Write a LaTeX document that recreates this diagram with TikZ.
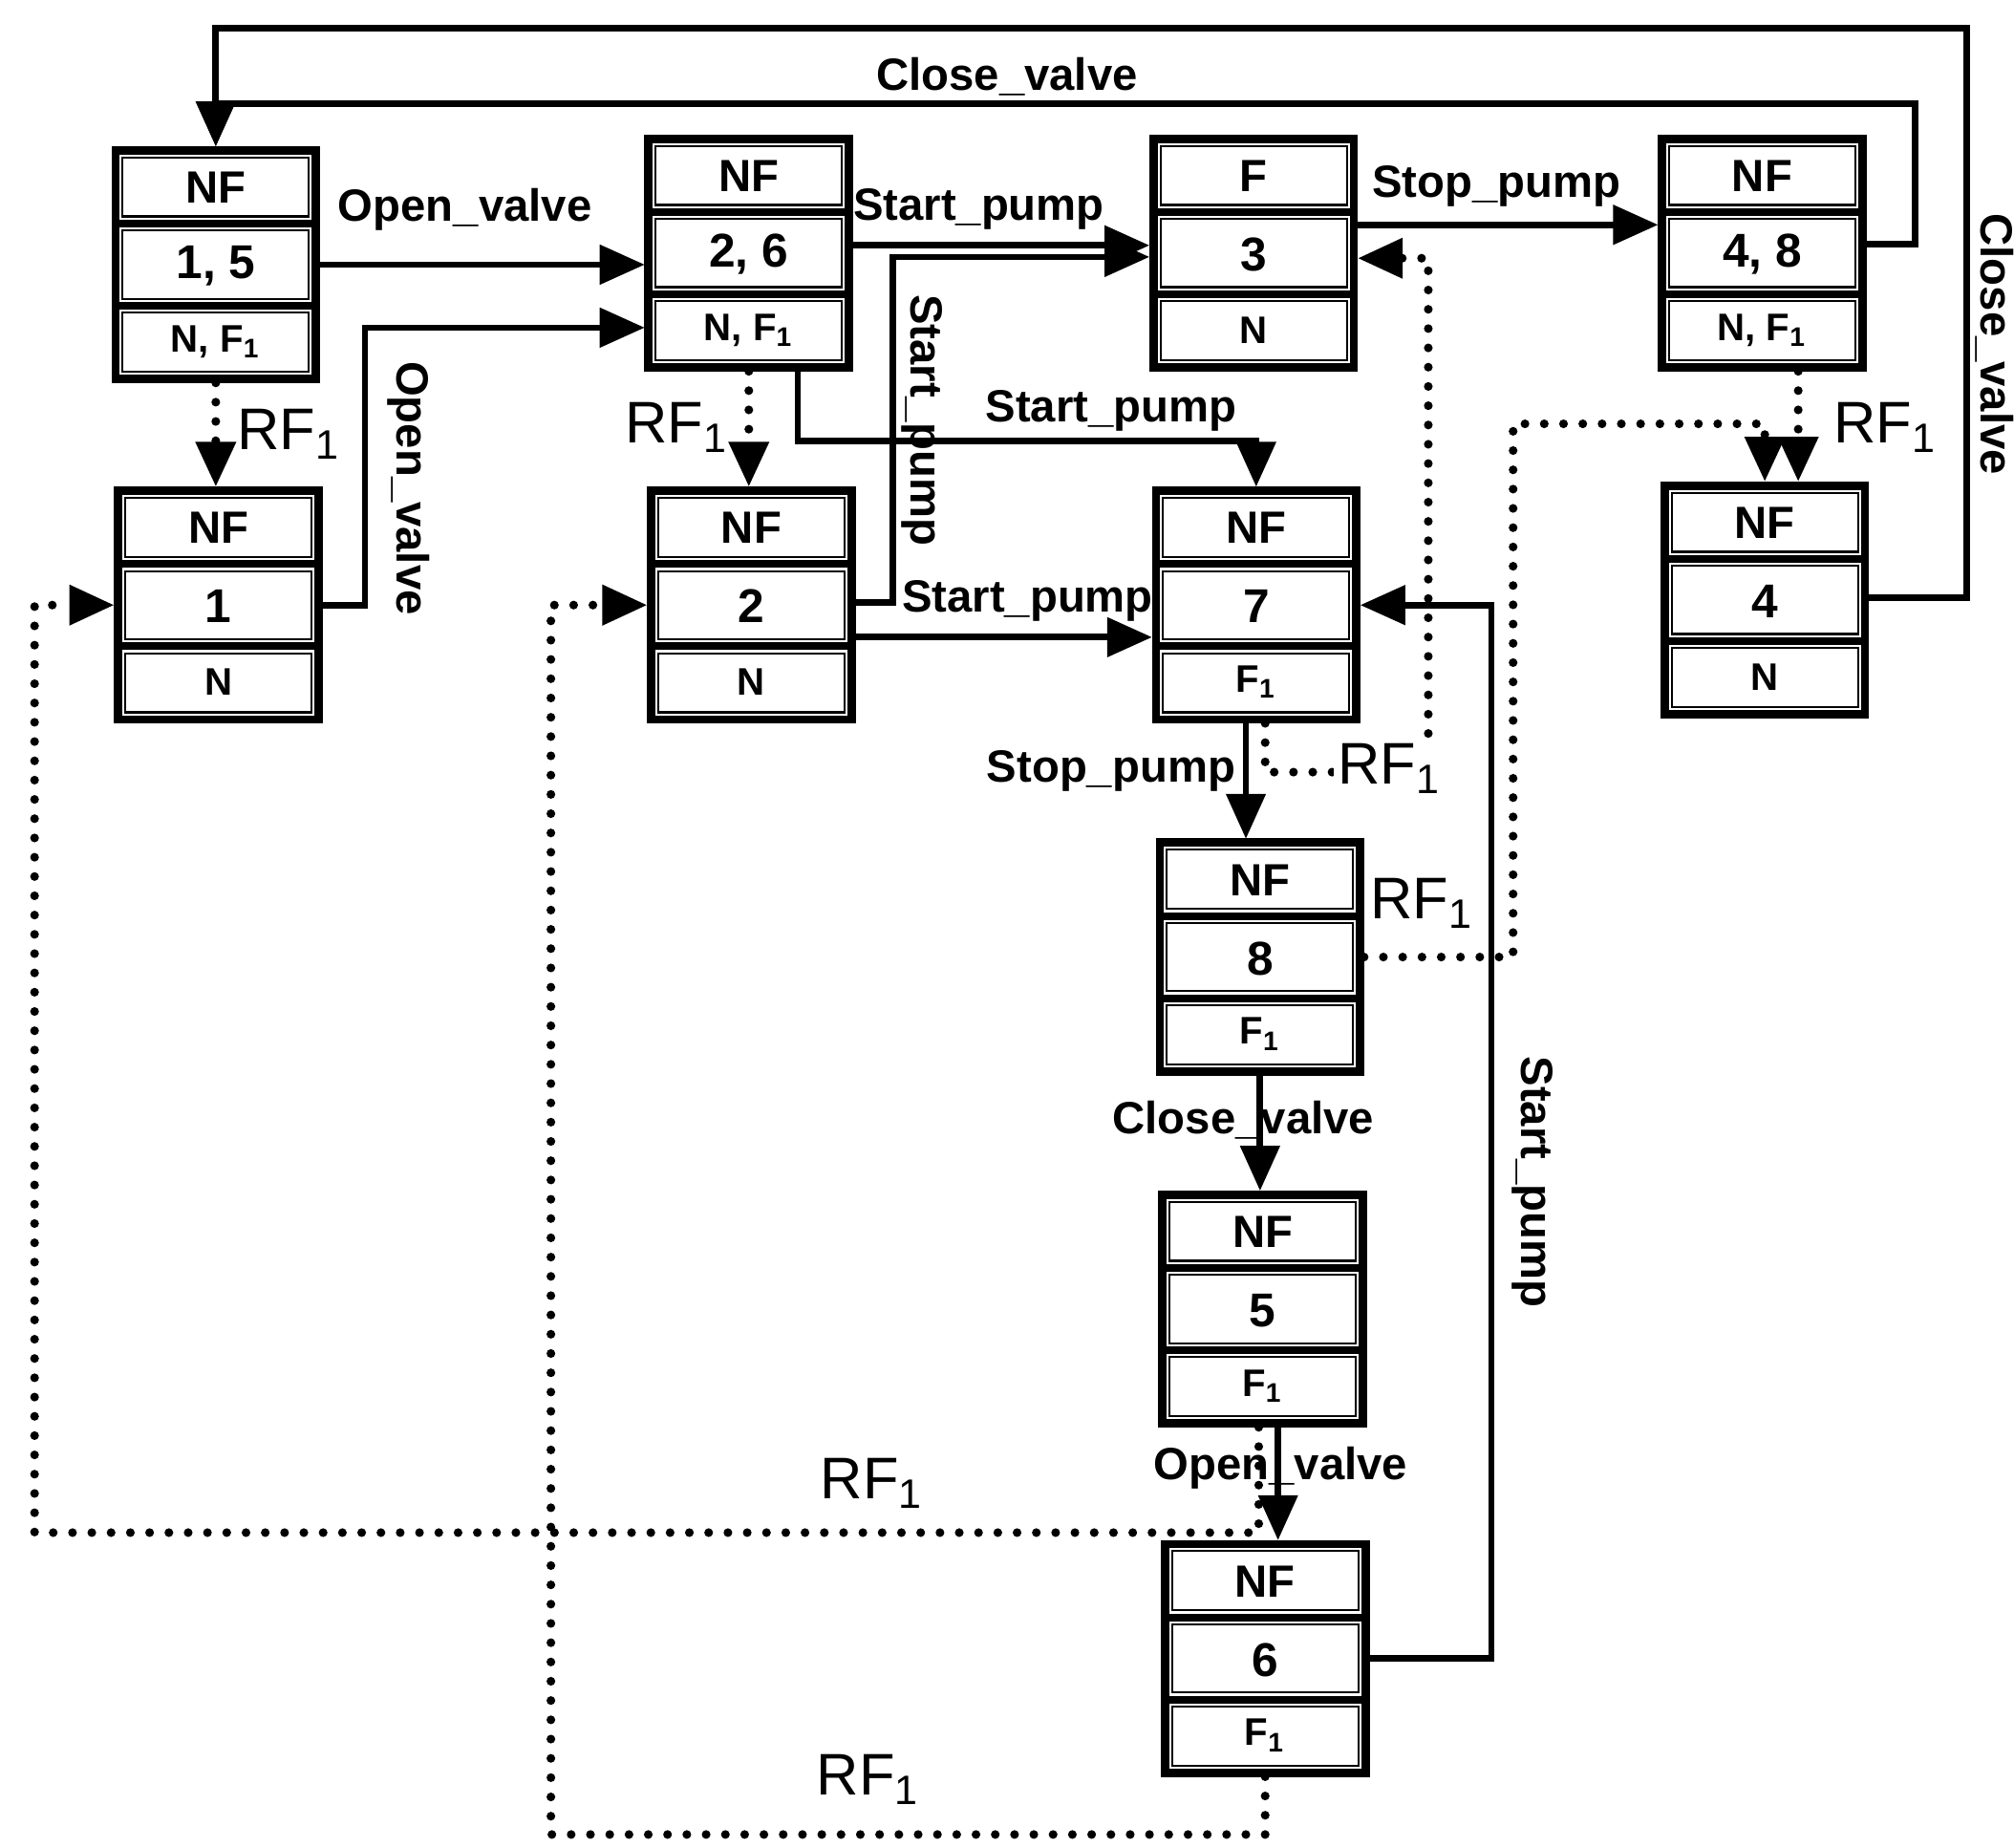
\documentclass[tikz,border=0pt]{standalone}
\usepackage{fontspec}
\setmainfont{Liberation Sans}
\usetikzlibrary{arrows.meta,calc}
\newcommand\statebox[6]{%
  \begin{scope}[shift={(#2,#3)}]
    \draw[cell] (5.5,5.5) rectangle (150.5,51.5);
    \draw[cell] (5.5,62.5) rectangle (150.5,115.5);
    \draw[cell] (5.5,126.5) rectangle (150.5,172.5);
    \draw[sepline] (0,57) -- (156,57);
    \draw[sepline] (0,121) -- (156,121);
    \node[toptxt] (#1-t) at (78,29) {#4};
    \node[midtxt] (#1-m) at (78,90) {#5};
    \node[bottxt] (#1-b) at (78,149) {#6};
  \end{scope}
  \node[box] (#1) at (#2+78,#3+89) {};
}
\begin{document}
\begin{tikzpicture}[x=0.01cm,y=-0.01cm,
  box/.style={draw, line width=0.065cm, minimum width=1.56cm, minimum height=1.78cm, inner sep=0pt, outer sep=0.03cm},
  cell/.style={draw, line width=0.016cm},
  sepline/.style={line width=0.06cm},
  conn/.style={line width=0.05cm, -{Triangle[length=0.35cm,width=0.3cm]}},
  dotconn/.style={line width=0.068cm, line cap=round, dash pattern=on 0pt off 0.15cm, -{Triangle[length=0.35cm,width=0.3cm]}},
  lbl/.style={font=\bfseries\fontsize{10}{12}\selectfont, inner sep=1pt},
  rflbl/.style={font=\fontsize{13}{15}\selectfont, inner sep=1pt},
  toptxt/.style={font=\bfseries\fontsize{10}{12}\selectfont, inner sep=0pt},
  midtxt/.style={font=\bfseries\fontsize{10.5}{12}\selectfont, inner sep=0pt},
  bottxt/.style={font=\bfseries\fontsize{8.5}{10}\selectfont, inner sep=0pt}
]
\path[use as bounding box, fill=white] (0,0) rectangle (1568,1438);

\statebox{s15}{90}{117}{NF}{1, 5}{N, F\textsubscript{1}}
\statebox{s1}{92}{382}{NF}{1}{N}
\statebox{s26}{505}{108}{NF}{2, 6}{N, F\textsubscript{1}}
\statebox{s2}{507}{382}{NF}{2}{N}
\statebox{s3}{898}{108}{F}{3}{N}
\statebox{s7}{900}{382}{NF}{7}{F\textsubscript{1}}
\statebox{s48}{1294}{108}{NF}{4, 8}{N, F\textsubscript{1}}
\statebox{s4}{1296}{378}{NF}{4}{N}
\statebox{s8}{903}{656}{NF}{8}{F\textsubscript{1}}
\statebox{s5}{905}{930}{NF}{5}{F\textsubscript{1}}
\statebox{s6}{907}{1202}{NF}{6}{F\textsubscript{1}}

% solid connectors
\draw[conn] (s15.east) -- (s15.east -| s26.west);
\draw[conn] (s1.east) -- ++(33,0) |- ([yshift=-0.58cm]s26.west);
\draw[conn] ([yshift=0.06cm]s26.east) -- ([yshift=0.06cm]s26.east -| s3.west);
\draw[conn] ([yshift=0.02cm]s2.east) -- ++(29,0) |- ([yshift=-0.03cm]s3.west);
\draw[conn] ([xshift=0.38cm]s26.south) -- ++(0,54) -| (s7.north);
\draw[conn] ([yshift=-0.25cm]s2.east) -- ([yshift=-0.25cm]s2.east -| s7.west);
\draw[conn] ([yshift=0.22cm]s3.east) -- ([yshift=0.22cm]s3.east -| s48.west);
\draw[conn] ([yshift=0.07cm]s48.east) -- ++(38,0) |- ([yshift=0.33cm]s15.north) -- (s15.north);
\draw[conn] ([yshift=0.02cm]s4.east) -- ++(76,0) |- ([yshift=0.92cm]s15.north) -- (s15.north);
\draw[conn] ([xshift=-0.08cm]s7.south) -- ([xshift=-0.08cm]s7.south |- s8.north);
\draw[conn] (s8.south) -- (s8.south |- s5.north);
\draw[conn] ([xshift=0.12cm]s5.south) -- ([xshift=0.12cm]s5.south |- s6.north);
\draw[conn] (s6.east) -- ++(95,0) |- (s7.east);

% dotted connectors
\draw[dotconn] (s15.south) -- (s15.south |- s1.north);
\draw[dotconn] (s26.south) -- (s26.south |- s2.north);
\draw[dotconn] ([xshift=0.28cm]s48.south) -- ([xshift=0.28cm]s48.south |- s4.north);
\draw[dotconn] (s8.east) -- ++(116,0) |- ([yshift=0.45cm]s4.north) -- (s4.north);
\draw[dotconn] ([xshift=0.07cm]s7.south) -- ++(0,38) -- ++(127,0) |- ([yshift=-0.04cm]s3.east);
\draw[dotconn] ([xshift=-0.03cm]s5.south) -- ++(0,82) -| ([xshift=-0.62cm]s1.west) -- (s1.west);
\draw[dotconn] (s6.south) -- ++(0,45) -| ([xshift=-0.75cm]s2.west) -- (s2.west);

% labels
\node[lbl] (t1) at (362,163) {Open\_valve};
\node[lbl,rotate=-90] (t2) at (318,380) {Open\_valve};
\node[rflbl] (t3) at (225,338) {RF\textsubscript{1}};
\node[rflbl] (t4) at (527,333) {RF\textsubscript{1}};
\node[lbl] (t5) at (762,163) {Start\_pump};
\node[lbl,rotate=-90] (t6) at (718,327) {Start\_pump};
\node[lbl] (t7) at (865,320) {Start\_pump};
\node[lbl] (t8) at (800,468) {Start\_pump};
\node[lbl] (t9) at (1165,145) {Stop\_pump};
\node[lbl] (t10) at (784,60) {Close\_valve};
\node[lbl,rotate=-90] (t11) at (1553,268) {Close\_valve};
\node[rflbl] (t12) at (1468,333) {RF\textsubscript{1}};
\node[lbl] (t13) at (865,600) {Stop\_pump};
\node[rflbl,fill=white] (t14) at (1082,598) {RF\textsubscript{1}};
\node[rflbl] (t15) at (1107,703) {RF\textsubscript{1}};
\node[lbl] (t16) at (968,872) {Close\_valve};
\node[lbl] (t17) at (997,1143) {Open\_valve};
\node[lbl,rotate=-90] (t18) at (1193,920) {Start\_pump};
\node[rflbl] (t19) at (679,1155) {RF\textsubscript{1}};
\node[rflbl] (t20) at (676,1385) {RF\textsubscript{1}};
\end{tikzpicture}
\end{document}
